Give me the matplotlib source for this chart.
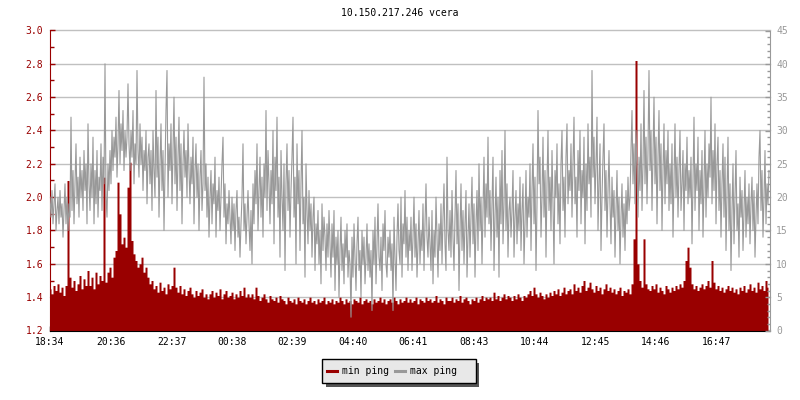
import matplotlib
matplotlib.use("Agg")
import matplotlib.pyplot as plt
from matplotlib.lines import Line2D
from matplotlib.patches import Rectangle
from matplotlib.ticker import MultipleLocator

title = "10.150.217.246 vcera"
tick_minutes = [0, 122, 243, 364, 485, 606, 727, 849, 970, 1091, 1212, 1333]
tick_labels = ["18:34", "20:36", "22:37", "00:38", "02:39", "04:40",
               "06:41", "08:43", "10:44", "12:45", "14:46", "16:47"]
series_names = ["min ping", "max ping"]
min_step_minutes = 4
max_step_minutes = 2

min_ping = [
    1.45, 1.42, 1.47, 1.44, 1.48, 1.43, 1.46, 1.41, 1.47, 2.10, 1.52, 1.46, 1.50, 1.44, 1.48, 1.53, 1.45, 1.51, 1.47, 1.56,
    1.47, 1.52, 1.45, 1.55, 1.48, 1.53, 1.50, 2.12, 1.49, 1.55, 1.58, 1.52, 1.64, 1.68, 2.09, 1.90, 1.72, 1.76, 1.70, 2.06,
    2.21, 1.74, 1.66, 1.62, 1.58, 1.60, 1.64, 1.55, 1.58, 1.52, 1.48, 1.50, 1.45, 1.47, 1.43, 1.49, 1.44, 1.46, 1.42, 1.48,
    1.45, 1.47, 1.58, 1.46, 1.43, 1.47, 1.42, 1.45, 1.41, 1.44, 1.46, 1.42, 1.40, 1.44, 1.41, 1.43, 1.45, 1.40, 1.42, 1.39,
    1.42, 1.44, 1.40, 1.43, 1.41, 1.45, 1.39, 1.42, 1.44, 1.40, 1.41, 1.43, 1.39, 1.42, 1.40, 1.44, 1.41, 1.46, 1.40, 1.42,
    1.40, 1.42, 1.39, 1.46, 1.41, 1.38, 1.40, 1.42, 1.39, 1.37, 1.41, 1.39, 1.38, 1.40, 1.37, 1.41, 1.39, 1.38, 1.36, 1.40,
    1.38, 1.37, 1.39, 1.36, 1.40, 1.38, 1.37, 1.39, 1.36, 1.38, 1.40, 1.37, 1.38, 1.36, 1.39, 1.37, 1.38, 1.40, 1.36, 1.38,
    1.37, 1.39, 1.36, 1.38, 1.37, 1.40, 1.38, 1.36, 1.39, 1.37, 1.38, 1.36, 1.39, 1.38, 1.37, 1.40, 1.36, 1.38, 1.39, 1.37,
    1.38, 1.36, 1.39, 1.37, 1.38, 1.40, 1.37, 1.39, 1.36, 1.38, 1.39, 1.37, 1.40, 1.38, 1.36, 1.39, 1.37, 1.38, 1.40, 1.37,
    1.39, 1.37, 1.38, 1.40, 1.36, 1.39, 1.38, 1.37, 1.40, 1.38, 1.39, 1.37, 1.38, 1.41, 1.37, 1.39, 1.38, 1.36, 1.40, 1.38,
    1.38, 1.40, 1.37, 1.39, 1.38, 1.41, 1.37, 1.39, 1.40, 1.38, 1.36, 1.39, 1.38, 1.40, 1.37, 1.39, 1.41, 1.38, 1.40, 1.39,
    1.40, 1.38, 1.43, 1.39, 1.41, 1.38, 1.40, 1.42, 1.39, 1.41, 1.40, 1.38, 1.41, 1.39, 1.42, 1.40, 1.38, 1.41, 1.40, 1.42,
    1.44, 1.41, 1.46, 1.42, 1.40, 1.43, 1.41, 1.39, 1.42, 1.40, 1.43, 1.41, 1.44, 1.42, 1.45, 1.41, 1.43, 1.46, 1.42, 1.44,
    1.45, 1.42, 1.48, 1.44, 1.46, 1.43, 1.47, 1.50, 1.44, 1.46, 1.49, 1.45, 1.43, 1.47, 1.44, 1.46, 1.42, 1.45, 1.48, 1.44,
    1.46, 1.43, 1.45, 1.42, 1.44, 1.46, 1.41, 1.44, 1.43, 1.45, 1.42, 1.48, 1.75, 2.82, 1.60, 1.50, 1.46, 1.75, 1.48, 1.45,
    1.44, 1.47, 1.45, 1.48, 1.43, 1.46, 1.44, 1.42, 1.47, 1.45, 1.43, 1.46, 1.44, 1.47, 1.45, 1.48, 1.46, 1.50, 1.62, 1.70,
    1.58, 1.48, 1.45, 1.47, 1.44, 1.46, 1.48, 1.45, 1.47, 1.50, 1.46, 1.62, 1.49, 1.45, 1.47, 1.44, 1.46, 1.43, 1.45, 1.47,
    1.44, 1.46, 1.43, 1.45, 1.42, 1.46, 1.44, 1.47, 1.43, 1.45, 1.48, 1.44, 1.46, 1.43, 1.49, 1.45, 1.47, 1.44, 1.50, 1.46,
]

max_ping = [
    20, 17, 21, 16, 19, 22, 15, 18, 20, 16, 21, 17, 19, 14, 18, 22, 16, 20, 15, 19,
    17, 32, 18, 24, 16, 22, 28, 19, 23, 17, 26, 20, 24, 18, 27, 21, 25, 16, 31, 22,
    18, 25, 20, 29, 16, 24, 19, 27, 17, 23, 21, 28, 18, 26, 22, 40, 20, 17, 25, 21,
    27, 22, 30, 24, 29, 26, 32, 23, 28, 36, 25, 31, 27, 33, 24, 30, 26, 29, 37, 28,
    24, 30, 26, 33, 22, 28, 25, 39, 27, 23, 31, 25, 29, 21, 27, 24, 30, 19, 26, 28,
    22, 27, 18, 30, 24, 20, 36, 23, 29, 17, 25, 31, 21, 27, 15, 24, 33, 39, 20, 28,
    24, 31, 19, 27, 35, 22, 29, 18, 26, 32, 21, 28, 16, 25, 30, 23, 27, 20, 31, 24,
    19, 26, 22, 29, 16, 24, 28, 20, 25, 15, 23, 27, 18, 22, 38, 21, 25, 17, 23, 14,
    20, 24, 16, 22, 19, 26, 14, 21, 18, 23, 15, 20, 25, 29, 17, 22, 13, 19, 16, 21,
    17, 13, 20, 15, 19, 12, 18, 21, 14, 17, 11, 16, 20, 28, 15, 19, 13, 17, 21, 16,
    12, 18, 10, 22, 16, 24, 19, 28, 15, 21, 26, 17, 23, 14, 25, 20, 33, 18, 27, 22,
    16, 24, 19, 30, 13, 26, 21, 32, 17, 23, 11, 27, 20, 15, 25, 9, 22, 28, 18, 24,
    14, 21, 26, 32, 17, 23, 10, 28, 19, 24, 12, 22, 30, 16, 20, 8, 25, 18, 13, 21,
    15, 19, 11, 17, 20, 9, 16, 13, 18, 10, 15, 7, 19, 12, 17, 14, 9, 16, 11, 18,
    13, 8, 16, 11, 18, 6, 14, 10, 15, 5, 12, 17, 9, 13, 7, 15, 11, 16, 8, 12,
    10, 2, 14, 8, 16, 11, 6, 13, 17, 9, 12, 5, 15, 10, 14, 7, 11, 16, 9, 13,
    8, 12, 3, 15, 10, 17, 7, 13, 19, 11, 9, 14, 6, 16, 12, 18, 10, 8, 14, 11,
    15, 9, 13, 3, 17, 11, 6, 14, 19, 12, 10, 20, 8, 16, 13, 21, 11, 17, 9, 15,
    12, 17, 9, 14, 20, 11, 16, 8, 13, 18, 10, 15, 12, 19, 9, 16, 22, 14, 11, 17,
    13, 9, 18, 7, 15, 11, 20, 14, 8, 16, 12, 19, 10, 17, 22, 13, 9, 26, 15, 12,
    18, 11, 21, 14, 9, 17, 24, 13, 19, 6, 15, 22, 12, 18, 10, 16, 21, 8, 14, 19,
    11, 17, 23, 13, 19, 8, 16, 21, 12, 25, 15, 20, 10, 18, 26, 14, 22, 17, 29, 16,
    21, 12, 19, 26, 9, 17, 23, 14, 20, 8, 24, 16, 27, 13, 19, 30, 15, 22, 11, 18,
    20, 14, 18, 24, 11, 17, 21, 13, 19, 15, 23, 12, 18, 22, 10, 16, 24, 14, 20, 17,
    25, 12, 21, 28, 16, 23, 9, 19, 33, 22, 26, 14, 20, 29, 17, 24, 11, 22, 30, 18,
    23, 15, 27, 19, 10, 24, 20, 28, 16, 22, 13, 25, 30, 18, 23, 14, 26, 31, 19, 24,
    21, 28, 17, 25, 32, 19, 23, 14, 27, 21, 30, 16, 24, 20, 29, 13, 25, 18, 31, 22,
    26, 17, 39, 23, 29, 19, 25, 32, 15, 22, 28, 12, 20, 26, 31, 18, 24, 14, 21, 27,
    19, 13, 23, 17, 21, 11, 18, 24, 15, 20, 10, 17, 22, 14, 19, 12, 21, 16, 23, 18,
    20, 27, 33, 22, 28, 19, 30, 24, 17, 26, 21, 31, 18, 25, 36, 22, 29, 19, 27, 39,
    24, 30, 18, 27, 35, 22, 29, 16, 26, 33, 21, 28, 15, 24, 31, 19, 27, 22, 30, 18,
    25, 19, 28, 14, 23, 31, 20, 26, 17, 24, 30, 18, 22, 27, 15, 25, 21, 29, 19, 24,
    20, 26, 13, 23, 32, 18, 25, 21, 29, 15, 24, 19, 27, 14, 22, 30, 17, 25, 20, 28,
    23, 35, 19, 27, 21, 31, 16, 25, 29, 18, 24, 14, 22, 28, 17, 26, 12, 21, 29, 15,
    22, 9, 18, 25, 13, 20, 27, 15, 19, 11, 23, 17, 21, 12, 18, 24, 14, 20, 16, 22,
    13, 19, 23, 15, 21, 11, 17, 22, 16, 26, 30, 18, 24, 14, 20, 27, 16, 22, 19, 24,
]

min_minutes = [i * min_step_minutes for i in range(len(min_ping))]
max_minutes = [i * max_step_minutes for i in range(len(max_ping))]

RED = "#990000"
GRAY = "#999999"
plt.rcParams["font.family"] = ["DejaVu Sans Mono"]
plt.rcParams["font.size"] = 7

W, H = 800, 400
fig = plt.figure(figsize=(8, 4), dpi=100)
ax = fig.add_axes([50 / W, 1 - 330.5 / H, 720 / W, 300 / H])
ax.set_xlim(0, 1440)
ax.set_ylim(1.2, 3.0)
ax.set_axisbelow(True)
ax.fill_between(min_minutes, 1.2, min_ping, step="mid", color=RED, lw=0,
                antialiased=False)
ax.yaxis.set_major_locator(MultipleLocator(0.2))
ax.yaxis.set_minor_locator(MultipleLocator(0.1))
ax.grid(axis="y", color="#c0c0c0", lw=1)
for gl in ax.get_ygridlines():
    gl.set_clip_on(False)
ax.set_xticks(tick_minutes)
ax.set_xticklabels(tick_labels)
ax.tick_params(axis="x", direction="in", length=3.6, width=1, color="black", pad=5)
ax.tick_params(axis="y", which="major", direction="in", length=3.6, width=1,
               color=RED, labelcolor=RED, pad=5)
ax.tick_params(axis="y", which="minor", direction="in", length=2.9, width=1, color=RED)
ax.spines["top"].set_visible(False)
ax.spines["left"].set_color(RED)
ax.spines["bottom"].set_color("black")
ax.spines["right"].set_visible(False)

ax2 = ax.twinx()
ax2.set_ylim(0, 45)
ax2.plot(max_minutes, max_ping, color=GRAY, lw=0.8)
ax2.yaxis.set_major_locator(MultipleLocator(5))
ax2.yaxis.set_minor_locator(MultipleLocator(1))
ax2.tick_params(axis="y", which="major", direction="in", length=3.6, width=1,
                color=GRAY, labelcolor=GRAY, pad=4.5)
ax2.tick_params(axis="y", which="minor", direction="in", length=2.4, width=1, color=GRAY)
ax2.spines["right"].set_color(GRAY)
ax2.spines["top"].set_visible(False)
ax2.spines["left"].set_visible(False)
ax2.spines["bottom"].set_visible(False)

fig.text(0.5, 1 - 13 / H, title, ha="center", va="center", fontsize=7)

def fx(px):
    return px / W

def fy(py):
    return 1 - py / H

fig.patches.append(Rectangle((fx(326), fy(387)), fx(479) - fx(326), fy(363) - fy(387),
                             transform=fig.transFigure, facecolor="#555555",
                             edgecolor="none", zorder=5))
fig.patches.append(Rectangle((fx(322), fy(383)), fx(476) - fx(322), fy(359) - fy(383),
                             transform=fig.transFigure, facecolor="#e8e8e8",
                             edgecolor="black", lw=1, zorder=6))
entries = [(327, RED, series_names[0]), (395, GRAY, series_names[1])]
for x0, col, name in entries:
    fig.lines.append(Line2D([fx(x0), fx(x0 + 10)], [fy(371), fy(371)],
                            transform=fig.transFigure, color=col, lw=2.2, zorder=7))
    fig.text(fx(x0 + 15), fy(370.5), name, ha="left", va="center",
             fontsize=7, zorder=8)

fig.savefig("out.png", dpi=100)
